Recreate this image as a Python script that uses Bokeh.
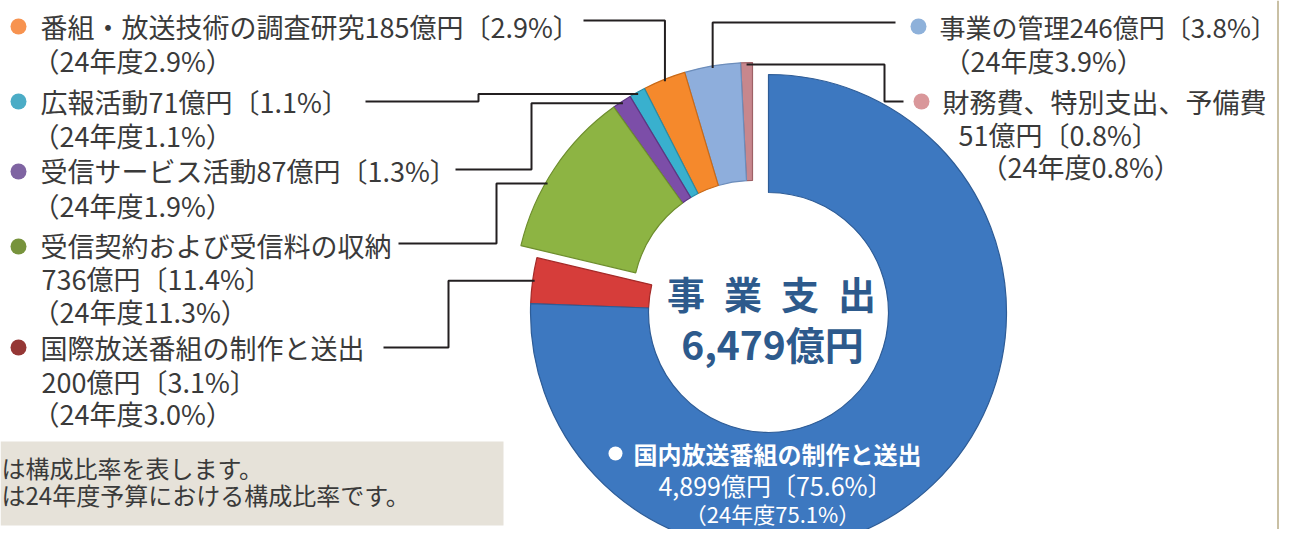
import math
from bokeh.plotting import figure
from bokeh.models import Range1d
from bokeh.embed import file_html
from bokeh.resources import INLINE
from bokeh.core.properties import value

# ---------------- data (counter-clockwise from 12 o'clock) ----------------
names = ["財務費、特別支出、予備費", "事業の管理", "番組・放送技術の調査研究", "広報活動",
         "受信サービス活動", "受信契約および受信料の収納", "国際放送番組の制作と送出",
         "国内放送番組の制作と送出"]
amounts = [51, 246, 185, 71, 87, 736, 200, 4899]          # 億円
shares = [0.8, 3.8, 2.9, 1.1, 1.3, 11.4, 3.1, 75.6]        # %
prev_shares = [0.8, 3.9, 2.9, 1.1, 1.9, 11.3, 3.0, 75.1]   # 24年度 %
total_amount = 6479
center_title = "事\u2002業\u2002支\u2002出"
note_lines = ["は構成比率を表します。", "は24年度予算における構成比率です。"]

slice_colors = ["#C7878D", "#8EAEDC", "#F5892C", "#39B0CE", "#7C4EA8", "#8DB443", "#D63D3A", "#3D78C0"]
slice_edges = ["#9E6166", "#6C8DBB", "#C96A18", "#2A8BA5", "#5D3682", "#6E8E2E", "#A42A28", "#2E5C96"]
bullet_colors = ["#D9979A", "#8EB1DA", "#F79350", "#4BACC6", "#7F64A2", "#77933C", "#953735", "#FFFFFF"]

FONT = value("Noto Sans CJK JP")
TXT = "#3A3A3A"

# ---------------- layout ----------------
W, H = 1279, 529
CX, CY = 752, 300            # pie centre (screen px)
R_OUT, R_IN = 238, 120
EXPLODE = (16, 12)           # shift of the blue & red slices (screen px)
exploded = {6, 7}

def Y(y):
    return -y

p = figure(width=W, height=H, x_range=Range1d(0, W), y_range=Range1d(-H, 0),
           output_backend="svg", toolbar_location=None, min_border=0,
           x_axis_location=None, y_axis_location=None)
p.grid.visible = False
p.outline_line_color = None
p.background_fill_color = "white"
p.border_fill_color = "white"

# note box and right border rule
p.quad(left=[0], right=[503], top=[Y(441)], bottom=[Y(525)], fill_color="#E6E2D9", line_color=None)
p.segment(x0=[1277.5], y0=[Y(0)], x1=[1277.5], y1=[Y(545)], line_color="#C9C0A4", line_width=2)
p.text(x=[1, 1], y=[Y(467), Y(494)], text=note_lines, text_font=FONT, text_font_size="24px",
       text_color=TXT, text_baseline="middle", text_align="left")

# ---------------- slices ----------------
starts, ends, cxs, cys = [], [], [], []
cum = 0.0
for i, s in enumerate(shares):
    a0 = math.radians(90 + cum * 3.6)
    a1 = math.radians(90 + (cum + s) * 3.6)
    cum += s
    starts.append(a0)
    ends.append(a1)
    dx, dy = EXPLODE if i in exploded else (0, 0)
    cxs.append(CX + dx)
    cys.append(Y(CY + dy))

p.annular_wedge(x=cxs, y=cys, inner_radius=R_IN, outer_radius=R_OUT,
                start_angle=starts, end_angle=ends, fill_color=slice_colors,
                line_color=slice_edges, line_width=1.2)

# ---------------- leader lines ----------------
anchor_frac = [0.5, 0.5, 0.5, 0.5, 0.5, 0.6, 0.5]
routes = [
    [("h", 884), ("v", 101), ("h", 903)],
    [("v", 22), ("h", 895)],
    [("v", 20), ("h", 583)],
    [("h", 478), ("v", 101), ("h", 365)],
    [("h", 531), ("v", 169), ("h", 455)],
    [("h", 496), ("v", 243), ("h", 398)],
    [("h", 448), ("v", 347), ("h", 383)],
]
lxs, lys = [], []
for i, route in enumerate(routes):
    a = starts[i] + (ends[i] - starts[i]) * anchor_frac[i]
    ax = cxs[i] + (R_OUT - 2) * math.cos(a)
    ay = -(cys[i] + (R_OUT - 2) * math.sin(a))  # screen y
    xs, ys = [ax], [ay]
    for kind, v in route:
        if kind == "h":
            xs.append(v); ys.append(ys[-1])
        else:
            xs.append(xs[-1]); ys.append(v)
    lxs.append(xs)
    lys.append([Y(v) for v in ys])
p.multi_line(xs=lxs, ys=lys, line_color="#231F20", line_width=2)

# ---------------- labels ----------------
def amt(i):
    return f"{amounts[i]:,}億円〔{shares[i]}%〕"

def prev(i):
    return f"（24年度{prev_shares[i]}%）"

# bullets
bx = [921, 918, 18, 18, 18, 18, 18]
by = [101, 26, 26, 101, 171, 246, 347]
p.circle(x=bx, y=[Y(v) for v in by], radius=8, fill_color=bullet_colors[:7], line_color=None)

tx, ty, tt = [], [], []
# one-line style labels (left column)
for i, (x, y) in zip([2, 3, 4], [(40, 26), (40, 101), (40, 170)]):
    tx.append(x); ty.append(y); tt.append(names[i] + amt(i))
for i, (x, y) in zip([1, 2, 3, 4], [(943, 60), (32, 60), (32, 135), (32, 205)]):
    tx.append(x); ty.append(y); tt.append(prev(i))
# three-line style labels
for i, pos in zip([0, 5, 6], [[(942, 101), (958, 134), (980, 166)],
                              [(40, 245), (41, 278), (32, 311)],
                              [(40, 347), (41, 381), (32, 413)]]):
    for (x, y), t in zip(pos, [names[i], amt(i), prev(i)]):
        tx.append(x); ty.append(y); tt.append(t)
p.text(x=tx, y=[Y(v) for v in ty], text=tt, text_font=FONT, text_font_size="27px",
       text_color=TXT, text_baseline="middle", text_align="left")
# right-column one-line label (slightly smaller so it stays inside the frame)
p.text(x=[939], y=[Y(26)], text=[names[1] + amt(1)], text_font=FONT, text_font_size="26px",
       text_color=TXT, text_baseline="middle", text_align="left")

# main slice label (white, inside blue ring)
p.circle(x=[615], y=[Y(453)], radius=7, fill_color=bullet_colors[7], line_color=None)
p.text(x=[633], y=[Y(453)], text=[names[7]], text_font=FONT, text_font_size="24px",
       text_font_style="bold", text_color="white", text_baseline="middle", text_align="left")
p.text(x=[775], y=[Y(484)], text=[amt(7)], text_font=FONT, text_font_size="25px",
       text_color="white", text_baseline="middle", text_align="center")
p.text(x=[772], y=[Y(512)], text=[prev(7)], text_font=FONT, text_font_size="22px",
       text_color="white", text_baseline="middle", text_align="center")

# centre text
p.text(x=[771], y=[Y(292)], text=[center_title], text_font=FONT, text_font_size="38px",
       text_font_style="bold", text_color="#2D5A8C", text_baseline="middle", text_align="center")
p.text(x=[772], y=[Y(342)], text=[f"{total_amount:,}億円"], text_font=FONT, text_font_size="39px",
       text_font_style="bold", text_color="#2D5A8C", text_baseline="middle", text_align="center")

open("out.html", "w").write(file_html(p, INLINE))
